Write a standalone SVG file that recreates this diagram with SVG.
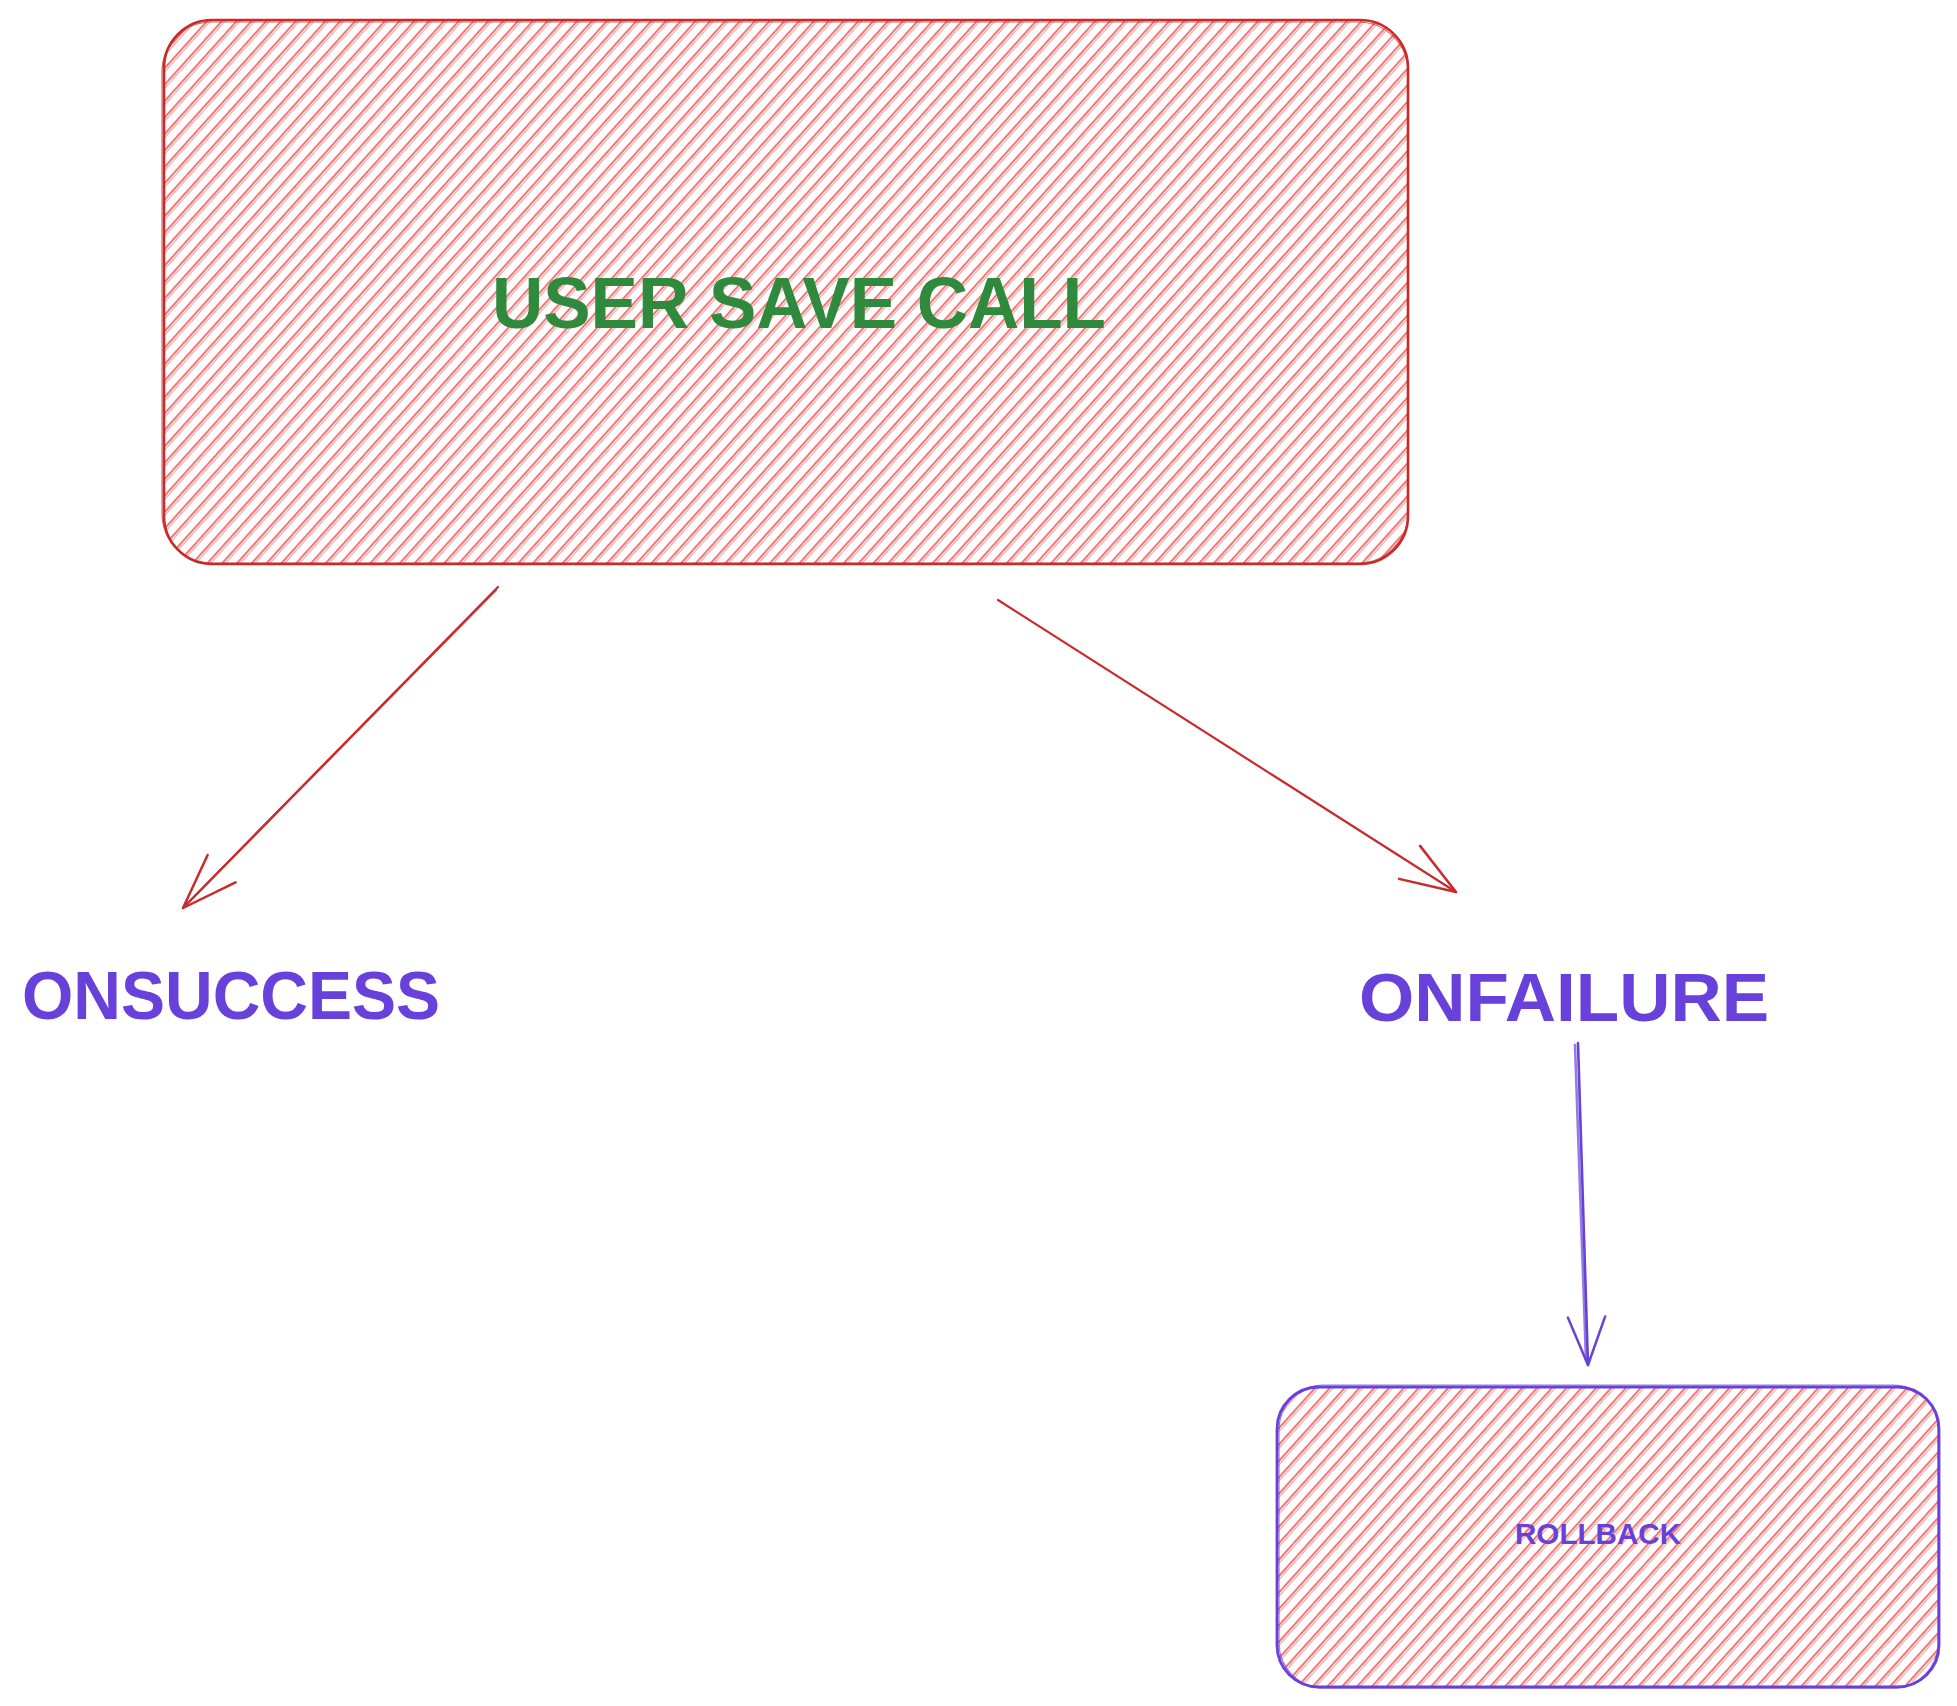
<svg xmlns="http://www.w3.org/2000/svg" width="1957" height="1706" viewBox="0 0 1957 1706">
  <style>
    .lbl { font-family: "Liberation Sans", Arial, sans-serif; font-weight: bold; }
    .edge-red { stroke: #c92a2a; stroke-width: 2.2; fill: none; stroke-linecap: round; }
    .edge-violet { stroke: #6741d9; stroke-width: 2.6; fill: none; stroke-linecap: round; }
  </style>
  <defs>
    <pattern id="hatch" width="11" height="11" patternUnits="userSpaceOnUse" patternTransform="rotate(42)">
      <line x1="3" y1="0" x2="3" y2="11" stroke="#f03e3e" stroke-width="1.5" opacity="0.95"/>
      <line x1="5.4" y1="0" x2="5.4" y2="11" stroke="#fa5252" stroke-width="0.9" opacity="0.7"/>
    </pattern>
    <marker id="headRed" markerUnits="userSpaceOnUse" markerWidth="80" markerHeight="60" refX="0" refY="0" viewBox="-80 -30 90 60" orient="auto" overflow="visible">
      <path d="M -62 -22 L 0 0 L -62 22" fill="none" stroke="#c92a2a" stroke-width="2.8" stroke-linecap="round" stroke-linejoin="round"/>
    </marker>
    <marker id="headViolet" markerUnits="userSpaceOnUse" markerWidth="80" markerHeight="60" refX="0" refY="0" viewBox="-80 -30 90 60" orient="auto" overflow="visible">
      <path d="M -54 -21 L 0 0 L -54 21" fill="none" stroke="#6741d9" stroke-width="2.8" stroke-linecap="round" stroke-linejoin="round"/>
    </marker>
  </defs>
  <rect width="1957" height="1706" fill="#ffffff"/>

  <g id="node-user-save-call">
    <rect x="164" y="20" width="1244" height="544" rx="48" ry="48" fill="url(#hatch)" stroke="#c92a2a" stroke-width="2.6"/>
    <rect x="162" y="22" width="1246" height="541" rx="50" ry="50" fill="none" stroke="#c92a2a" stroke-width="1.2" opacity="0.7"/>
    <text class="lbl" x="799" y="328" font-size="72" fill="#2f8a3e" text-anchor="middle" textLength="614" lengthAdjust="spacingAndGlyphs">USER SAVE CALL</text>
  </g>

  <g id="node-onsuccess">
    <text class="lbl" x="231" y="1019" font-size="68" fill="#6741d9" text-anchor="middle" textLength="418" lengthAdjust="spacingAndGlyphs">ONSUCCESS</text>
  </g>

  <g id="node-onfailure">
    <text class="lbl" x="1564" y="1021" font-size="68" fill="#6741d9" text-anchor="middle" textLength="410" lengthAdjust="spacingAndGlyphs">ONFAILURE</text>
  </g>

  <g id="node-rollback">
    <rect x="1277" y="1387" width="662" height="300" rx="42" ry="42" fill="url(#hatch)" stroke="#6741d9" stroke-width="2.8"/>
    <rect x="1279" y="1385" width="659" height="303" rx="45" ry="45" fill="none" stroke="#6741d9" stroke-width="1.2" opacity="0.7"/>
    <text class="lbl" x="1598" y="1544" font-size="30" fill="#6741d9" text-anchor="middle" textLength="166" lengthAdjust="spacingAndGlyphs">ROLLBACK</text>
  </g>

  <g id="connectors">
    <path class="edge-red" d="M 498 587 L 183 908" marker-end="url(#headRed)"/>
    <path class="edge-red" d="M 496 590 L 186 905" stroke-width="1" opacity="0.8"/>
    <path class="edge-red" d="M 998 600 L 1456 892" marker-end="url(#headRed)"/>
    <path class="edge-violet" d="M 1578 1043 L 1588 1365" marker-end="url(#headViolet)"/>
    <path class="edge-violet" d="M 1575 1045 L 1586 1360" stroke-width="1.2" opacity="0.7"/>
  </g>
</svg>
